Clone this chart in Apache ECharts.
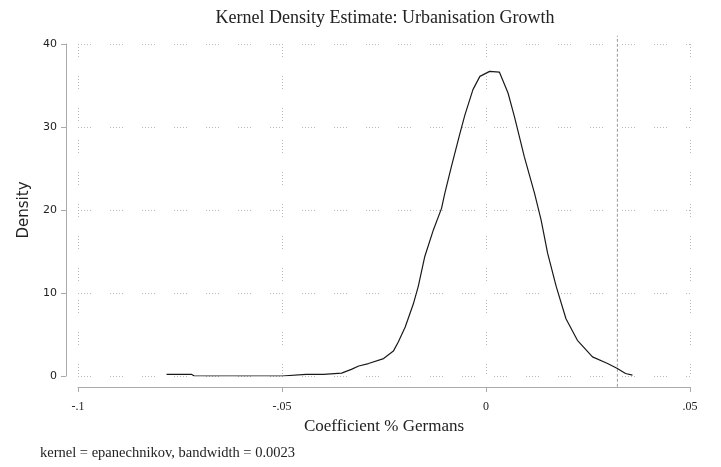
<!DOCTYPE html>
<html>
<head>
<meta charset="utf-8">
<title>Kernel Density Estimate</title>
<script src="https://cdn.jsdelivr.net/npm/echarts@6/dist/echarts.min.js"></script>
<style>
  html, body { margin: 0; padding: 0; background: #fff; }
  #tb1 { width: 721px; height: 467px; }
</style>
</head>
<body>
<div id="tb1"></div>
<script>
// 数据 - coefficient (x) and density (y)
var coefX = [-0.0783, -0.0722, -0.0715, -0.0650, -0.0580, -0.0500, -0.0441, -0.0398, -0.0354, -0.0330,
             -0.0312, -0.0288, -0.0251, -0.0227, -0.0215, -0.0198, -0.0178, -0.0166, -0.0150, -0.0129,
             -0.0109, -0.0101, -0.0085, -0.0064, -0.0052, -0.0032, -0.0015, 0.0009, 0.0033, 0.0054,
             0.0070, 0.0094, 0.0119, 0.0135, 0.0151, 0.0172, 0.0196, 0.0224, 0.0261, 0.0298,
             0.0322, 0.0342, 0.0359];
var density = [0.2, 0.2, 0.0, 0.0, 0.0, 0.0, 0.2, 0.2, 0.35, 0.8,
               1.2, 1.5, 2.1, 3.0, 4.1, 5.9, 8.7, 10.8, 14.4, 17.6,
               20.2, 22.0, 25.2, 29.2, 31.4, 34.5, 36.1, 36.7, 36.6, 34.1,
               31.2, 26.4, 22.0, 18.8, 14.8, 10.8, 6.9, 4.3, 2.3, 1.5,
               0.9, 0.3, 0.1];
// reference line (x) and how far up/down it reaches (y)
var refLineX = 0.0322;
var refLineY = [-1.3, 41];
var xTickVals = [-0.1, -0.05, 0, 0.05];
var xTickLabels = ['-.1', '-.05', '0', '.05'];
var yTicks = [0, 10, 20, 30, 40];

var titleText = 'Kernel Density Estimate: Urbanisation Growth';
var noteText = 'kernel = epanechnikov, bandwidth = 0.0023';

var pts = [];
for (var i = 0; i < coefX.length; i++) {
    pts.push([coefX[i], density[i]]);
}
var refPts = [[refLineX, refLineY[0]], [refLineX, refLineY[1]]];

function xLabel(v) {
    for (var k = 0; k < xTickVals.length; k++) {
        if (Math.abs(v - xTickVals[k]) < 1e-9) return xTickLabels[k];
    }
    return '';
}

var dotGrid = {
    color: '#b8b8b8',
    width: 1,
    type: [1, 2, 1, 2, 1, 2, 1, 2, 1, 19]
};

myChart1 = echarts.init(document.getElementById('tb1'));
option1 = {
    animation: false,
    backgroundColor: '#fff',
    title: [{
        text: titleText,
        left: 385,
        top: 9,
        padding: 0,
        textAlign: 'center',
        textStyle: { fontFamily: 'Liberation Serif', fontSize: 18, fontWeight: 'normal', color: '#222' }
    }, {
        text: noteText,
        left: 40,
        top: 446,
        padding: 0,
        textStyle: { fontFamily: 'Liberation Serif', fontSize: 14.5, fontWeight: 'normal', color: '#222' }
    }],
    grid: { left: 78, right: 31, top: 44, bottom: 91 },
    xAxis: {
        type: 'value',
        min: -0.1,
        max: 0.05,
        interval: 0.05,
        offset: 11,
        name: 'Coefficient % Germans',
        nameLocation: 'middle',
        nameGap: 31,
        nameTextStyle: { fontFamily: 'Liberation Serif', fontSize: 17, color: '#222' },
        axisLine: { onZero: false, lineStyle: { color: '#aaa', width: 1 } },
        axisTick: { show: true, length: 5, lineStyle: { color: '#aaa' } },
        axisLabel: {
            margin: 14,
            fontFamily: 'Liberation Serif',
            fontSize: 12,
            color: '#222',
            formatter: xLabel
        },
        splitLine: { show: true, lineStyle: dotGrid }
    },
    yAxis: {
        type: 'value',
        min: yTicks[0],
        max: yTicks[yTicks.length - 1],
        interval: 10,
        offset: 12,
        name: 'Density',
        nameLocation: 'middle',
        nameGap: 34,
        nameTextStyle: { fontFamily: 'DejaVu Sans', fontSize: 15, color: '#222' },
        axisLine: { show: true, onZero: false, lineStyle: { color: '#aaa', width: 1 } },
        axisTick: { show: true, length: 5, lineStyle: { color: '#aaa' } },
        axisLabel: {
            margin: 9,
            fontFamily: 'DejaVu Sans',
            fontSize: 11,
            color: '#222'
        },
        splitLine: { show: true, lineStyle: dotGrid }
    },
    series: [{
        type: 'line',
        data: refPts,
        clip: false,
        showSymbol: false,
        silent: true,
        lineStyle: { color: '#999', width: 1, type: [3, 2] }
    }, {
        type: 'line',
        data: pts,
        showSymbol: false,
        smooth: false,
        lineStyle: { color: '#1a1a1a', width: 1.2 }
    }]
};
myChart1.setOption(option1);
</script>
</body>
</html>
